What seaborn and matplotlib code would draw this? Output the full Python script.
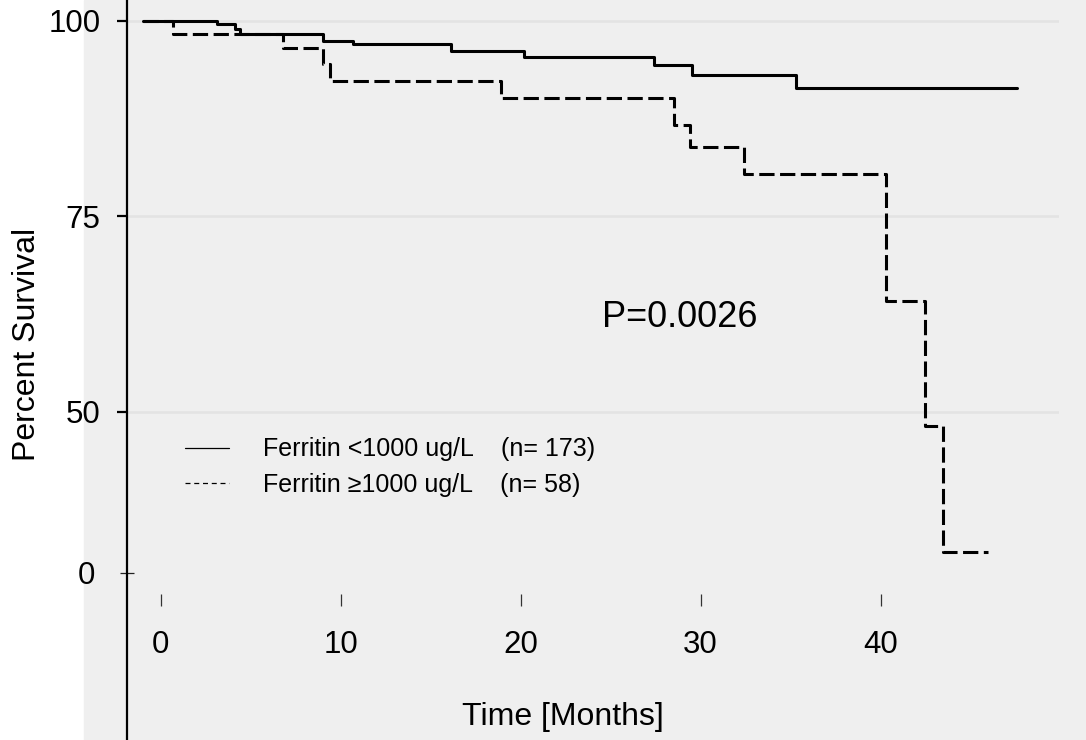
import matplotlib
matplotlib.use('Agg')
import matplotlib.pyplot as plt
from matplotlib.lines import Line2D
from matplotlib.patches import Rectangle
import seaborn as sns
import pandas as pd

# Kaplan-Meier steps (months, percent surviving)
low_months = [-1.0, 3.1, 4.1, 4.4, 9.0, 10.7, 16.1, 20.2, 27.4, 29.5, 35.3, 47.6]
low_surv = [100, 99.6, 98.9, 98.3, 97.4, 97.0, 96.1, 95.3, 94.3, 93.1, 91.4, 91.4]

high_months = [-1.0, 0.7, 6.8, 9.0, 9.4, 18.9, 28.5, 29.4, 32.4, 40.3, 42.5, 43.5, 46.0]
high_surv = [100, 98.3, 96.5, 94.5, 92.3, 90.1, 86.7, 83.8, 80.4, 64.1, 48.2, 32.1, 32.1]

legend_labels = ['Ferritin <1000 ug/L    (n= 173)', 'Ferritin ≥1000 ug/L    (n= 58)']
p_text = 'P=0.0026'
x_ticks = [0, 10, 20, 30, 40]
y_ticks = [50, 75, 100]
zero_tick = 29.4   # the axis is broken: "0" sits just under the curves

sns.set_theme(style='white')
plt.rcParams['font.family'] = ['Liberation Sans', 'DejaVu Sans']
plt.rcParams['text.color'] = 'black'
plt.rcParams['axes.labelcolor'] = 'black'
plt.rcParams['xtick.labelcolor'] = 'black'
plt.rcParams['ytick.labelcolor'] = 'black'

bg = '#efefef'
fig = plt.figure(figsize=(10.86, 7.4), dpi=100)
fig.patches.append(Rectangle((84 / 1086, 0), 1, 1, transform=fig.transFigure,
                             color=bg, zorder=-10))
ax = fig.add_axes([127 / 1086, 0, 932 / 1086, 1])
ax.set_facecolor(bg)

low = pd.DataFrame({'month': low_months, 'surv': low_surv})
high = pd.DataFrame({'month': high_months, 'surv': high_surv})
sns.lineplot(data=low, x='month', y='surv', ax=ax, color='black', lw=2.2,
             drawstyle='steps-post', estimator=None, sort=False)
sns.lineplot(data=high, x='month', y='surv', ax=ax, color='black', lw=2.2,
             linestyle=(0, (5, 1.8)), drawstyle='steps-post', estimator=None, sort=False)

ax.set_xlim(-1.88, 49.92)
ax.set_ylim(8.0, 102.65)

# ticks
ax.set_xticks(x_ticks, labels=[str(t) for t in x_ticks])
ax.set_yticks(y_ticks, labels=[str(t) for t in y_ticks])
ax.set_yticks([zero_tick], labels=['0'], minor=True)
ax.tick_params(axis='y', which='major', direction='out', length=7.2, width=1.6,
               color='black', labelsize=22.5, pad=12, left=True)
ax.tick_params(axis='y', which='minor', direction='inout', length=9.4, width=0.9,
               color='#222222', labelsize=22.5, pad=18, left=True)
ax.tick_params(axis='x', which='major', direction='inout', length=8, width=0.9,
               color='#333333', labelsize=22.5, pad=18, bottom=True)

ax.grid(axis='y', which='major', color='#e3e3e3', lw=1.8)
ax.grid(axis='x', visible=False)
ax.set_axisbelow(True)

ax.spines['top'].set_visible(False)
ax.spines['right'].set_visible(False)
ax.spines['bottom'].set_position(('data', 25.92))
ax.spines['bottom'].set_color('none')
ax.spines['left'].set_color('black')
ax.spines['left'].set_linewidth(1.6)

ax.set_xlabel('Time [Months]', fontsize=23)
ax.xaxis.label.set_va('center')
ax.xaxis.set_label_coords(0.468, 0.031)
ax.set_ylabel('Percent Survival', fontsize=23)
ax.yaxis.label.set_va('center')
ax.yaxis.set_label_coords(-0.107, 0.534)

ax.text(28.85, 62.0, p_text, fontsize=26, ha='center', va='center')

handles = [Line2D([], [], color='black', lw=0.9),
           Line2D([], [], color='black', lw=0.9, ls=(0, (4, 3)))]
ax.legend(handles, legend_labels, loc='upper left', bbox_to_anchor=(0.062, 0.409),
          frameon=False, fontsize=18, handlelength=1.76, handletextpad=1.36,
          labelspacing=0.45, borderpad=0, borderaxespad=0)

fig.savefig('out.png', dpi=100)
